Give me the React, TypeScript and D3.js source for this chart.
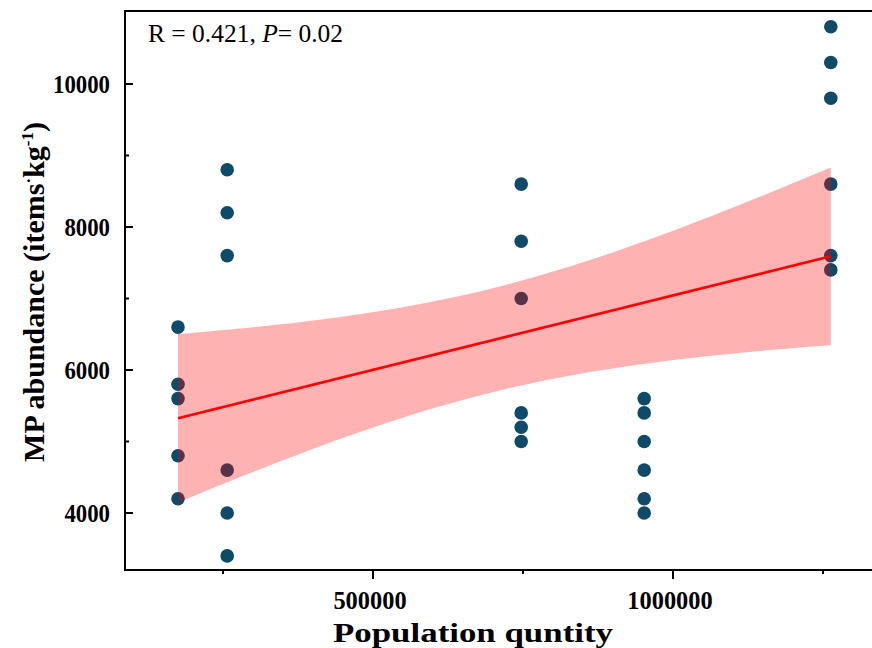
import React from "react";
import * as d3 from "d3";

// Data
const groupPopulation = [175000, 257000, 747000, 952000, 1263000];
const groupAbundance = [
  [6600, 5800, 5600, 4800, 4200],
  [8800, 8200, 7600, 4600, 4000, 3400],
  [8600, 7800, 7000, 5400, 5200, 5000],
  [5600, 5400, 5000, 4600, 4200, 4000],
  [10800, 10300, 9800, 8600, 7600, 7400],
];
const xTicksMajor = [500000, 1000000];
const xTicksMinor = [250000, 750000, 1250000];
const yTicksMajor = [4000, 6000, 8000, 10000];
const yTicksMinor = [5000, 7000, 9000];
const T_CRIT = 2.052; // t(0.975, df=27)

const W = 872;
const H = 648;
const L = 125, T = 11, B = 570, R = 880;

export default function App() {
  const x = d3.scaleLinear().domain([86667, 1345000]).range([L, R]);
  const y = d3.scaleLinear().domain([3203, 11021]).range([B, T]);

  const pts: { px: number; py: number }[] = [];
  groupPopulation.forEach((p, i) => groupAbundance[i].forEach((v) => pts.push({ px: p, py: v })));

  const n = pts.length;
  const mx = d3.mean(pts, (d) => d.px)!;
  const my = d3.mean(pts, (d) => d.py)!;
  const sxx = d3.sum(pts, (d) => (d.px - mx) ** 2);
  const sxy = d3.sum(pts, (d) => (d.px - mx) * (d.py - my));
  const slope = sxy / sxx;
  const icpt = my - slope * mx;
  const sse = d3.sum(pts, (d) => (d.py - (icpt + slope * d.px)) ** 2);
  const s = Math.sqrt(sse / (n - 2));
  const xmin = d3.min(groupPopulation)!;
  const xmax = d3.max(groupPopulation)!;
  const xs = d3.range(0, 61).map((k) => xmin + ((xmax - xmin) * k) / 60);
  const band = xs.map((xv) => {
    const fit = icpt + slope * xv;
    const hw = T_CRIT * s * Math.sqrt(1 / n + (xv - mx) ** 2 / sxx);
    return { xv, lo: fit - hw, hi: fit + hw };
  });
  const area = d3
    .area<{ xv: number; lo: number; hi: number }>()
    .x((d) => x(d.xv))
    .y0((d) => y(d.lo))
    .y1((d) => y(d.hi));
  const line = d3
    .line<number>()
    .x((d) => x(d))
    .y((d) => y(icpt + slope * d));

  const font = "'Liberation Serif', 'Times New Roman', serif";

  return (
    <svg width={W} height={H} style={{ position: "absolute", left: 0, top: 0 }} fontFamily={font}>
      <rect width={W} height={H} fill="#fff" />
      {/* points */}
      {pts.map((d, i) => (
        <circle key={i} cx={x(d.px)} cy={y(d.py)} r={6.8} fill="#0f4a68" />
      ))}
      {/* confidence band */}
      <path d={area(band) || ""} fill="#ff0000" fillOpacity={0.3} />
      <path d={line([xmin, xmax]) || ""} stroke="#ff0000" strokeWidth={2.5} fill="none" />

      {/* axes */}
      <line x1={L} x2={L} y1={T} y2={B} stroke="#000" strokeWidth={2} />
      <line x1={L - 1} x2={R} y1={B} y2={B} stroke="#000" strokeWidth={2} />
      <line x1={L - 1} x2={R} y1={T} y2={T} stroke="#000" strokeWidth={2} />

      {yTicksMajor.map((v) => (
        <g key={v}>
          <line x1={L} x2={L + 8} y1={y(v)} y2={y(v)} stroke="#000" strokeWidth={2} />
          <text
            x={110}
            y={y(v) + 9}
            textAnchor="end"
            fontSize={26}
            fontWeight="bold"
            textLength={String(v).length * 11.4}
            lengthAdjust="spacingAndGlyphs"
          >
            {v}
          </text>
        </g>
      ))}
      {yTicksMinor.map((v) => (
        <line key={v} x1={L} x2={L + 4} y1={y(v)} y2={y(v)} stroke="#000" strokeWidth={2} />
      ))}
      {xTicksMajor.map((v) => (
        <g key={v}>
          <line x1={x(v)} x2={x(v)} y1={B} y2={B + 9} stroke="#000" strokeWidth={2} />
          <text
            x={x(v) - 3}
            y={609}
            textAnchor="middle"
            fontSize={25}
            fontWeight="bold"
            textLength={String(v).length * 12.2}
            lengthAdjust="spacingAndGlyphs"
          >
            {v}
          </text>
        </g>
      ))}
      {xTicksMinor.map((v) => (
        <line key={v} x1={x(v)} x2={x(v)} y1={B} y2={B + 4} stroke="#000" strokeWidth={2} />
      ))}

      <text x={148} y={42} fontSize={25} textLength={195} lengthAdjust="spacingAndGlyphs">
        R = 0.421, <tspan fontStyle="italic">P</tspan>= 0.02
      </text>

      <text
        x={473}
        y={642}
        textAnchor="middle"
        fontSize={28}
        fontWeight="bold"
        textLength={280}
        lengthAdjust="spacingAndGlyphs"
      >
        Population quntity
      </text>
      <text
        transform={`translate(44,292) rotate(-90)`}
        textAnchor="middle"
        fontSize={30}
        fontWeight="bold"
      >
        MP abundance (items
        <tspan dy={-10} fontSize={17}>·</tspan>
        <tspan dy={10}>kg</tspan>
        <tspan dy={-11} fontSize={17}>-1</tspan>
        <tspan dy={11}>)</tspan>
      </text>
    </svg>
  );
}
